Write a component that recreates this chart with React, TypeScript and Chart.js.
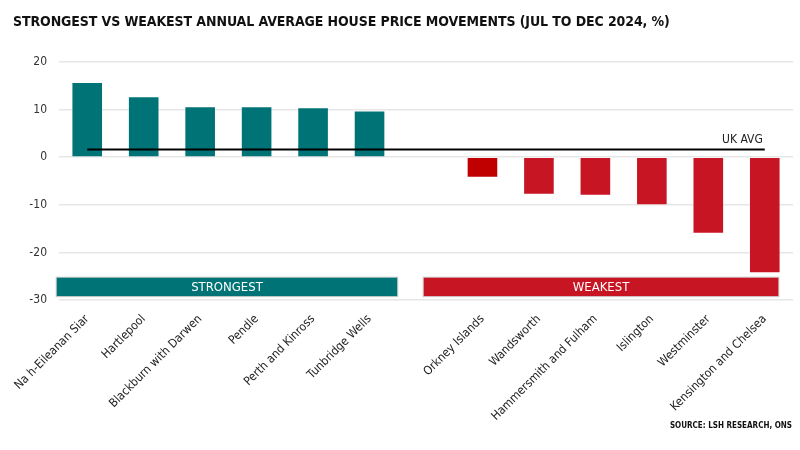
import React, { useEffect, useRef } from 'react';
import Chart from 'chart.js/auto';

// data
const categories = [
  'Na h-Eileanan Siar', 'Hartlepool', 'Blackburn with Darwen', 'Pendle', 'Perth and Kinross', 'Tunbridge Wells',
  '',
  'Orkney Islands', 'Wandsworth', 'Hammersmith and Fulham', 'Islington', 'Westminster', 'Kensington and Chelsea',
];
const movement = [15.8, 12.8, 10.7, 10.7, 10.5, 9.8, null, -4.3, -7.9, -8.1, -10.1, -16.1, -24.4];
const ukAvg = 1.6;
const groupNames = ['STRONGEST', 'WEAKEST'];
const groupFirst = [0, 7];
const groupLast = [5, 12];
const yTicks = [20, 10, 0, -10, -20, -30];

const TEAL = '#007377';
const RED = '#c81524';
const DARK_RED = '#c00000';
const FONT = '"DejaVu Sans Condensed", "DejaVu Sans", sans-serif';

const barColors = movement.map((v, i) => (v === null ? 'transparent' : v >= 0 ? TEAL : i === 7 ? DARK_RED : RED));
const groupColors = [TEAL, RED];

const overlayPlugin = {
  id: 'overlay',
  afterDatasetsDraw(chart: any) {
    const { ctx } = chart;
    const xs = chart.scales.x;
    const ys = chart.scales.y;

    // group banners along the bottom of the plot
    const top = ys.getPixelForValue(-25.2);
    const bottom = ys.getPixelForValue(-29.3);
    groupNames.forEach((name, g) => {
      const left = xs.getPixelForValue(g === 0 ? groupFirst[g] - 0.55 : groupFirst[g] - 1.05);
      const right = xs.getPixelForValue(g === 0 ? groupLast[g] + 0.5 : groupLast[g] + 0.25);
      ctx.save();
      ctx.fillStyle = groupColors[g];
      ctx.fillRect(left, top, right - left, bottom - top);
      ctx.strokeStyle = '#cfcfcf';
      ctx.lineWidth = 1;
      ctx.strokeRect(left, top, right - left, bottom - top);
      ctx.fillStyle = '#ffffff';
      ctx.font = `13px ${FONT}`;
      ctx.textAlign = 'center';
      ctx.textBaseline = 'middle';
      ctx.fillText(name, (left + right) / 2, (top + bottom) / 2 + 1);
      ctx.restore();
    });

    // UK average label
    const endX = xs.getPixelForValue(categories.length - 1);
    const lineY = ys.getPixelForValue(ukAvg);
    ctx.save();
    ctx.fillStyle = '#222';
    ctx.font = `12px ${FONT}`;
    ctx.textAlign = 'right';
    ctx.textBaseline = 'bottom';
    ctx.fillText('UK AVG', endX - 2, lineY - 4);
    ctx.restore();
  },
};

const HousePriceChart: React.FC = () => {
  const canvasRef = useRef<HTMLCanvasElement>(null);
  const chartRef = useRef<Chart | null>(null);

  useEffect(() => {
    if (!canvasRef.current) return;
    if (chartRef.current) chartRef.current.destroy();

    chartRef.current = new Chart(canvasRef.current, {
      type: 'bar',
      data: {
        labels: categories,
        datasets: [
          {
            type: 'line',
            label: 'UK AVG',
            data: categories.map(() => ukAvg),
            borderColor: '#000',
            borderWidth: 2,
            pointRadius: 0,
            order: 0,
          } as any,
          {
            label: 'Movement',
            data: movement,
            backgroundColor: barColors,
            borderColor: 'rgba(255,255,255,0.35)',
            borderWidth: 1,
            barPercentage: 0.56,
            categoryPercentage: 1,
            order: 1,
          },
        ],
      },
      options: {
        responsive: false,
        animation: false,
        layout: { padding: { top: 62, right: 7, left: 0, bottom: 0 } },
        plugins: {
          legend: { display: false },
          tooltip: { enabled: false },
        },
        scales: {
          x: {
            grid: { display: false },
            border: { display: false },
            ticks: {
              minRotation: 45,
              maxRotation: 45,
              autoSkip: false,
              padding: 4,
              color: '#222',
              font: { family: FONT, size: 12 },
            },
            afterFit: (scale: any) => {
              scale.height = 150;
            },
          },
          y: {
            min: -30,
            max: 20,
            afterBuildTicks: (scale: any) => {
              scale.ticks = yTicks.map((v) => ({ value: v }));
            },
            grid: { color: '#e6e6e6', lineWidth: 1.5, drawTicks: false },
            border: { display: false },
            ticks: {
              padding: 12,
              color: '#333',
              font: { family: FONT, size: 12 },
            },
            afterFit: (scale: any) => {
              scale.width = 59;
            },
          },
        },
      },
      plugins: [overlayPlugin],
    });

    return () => {
      if (chartRef.current) {
        chartRef.current.destroy();
        chartRef.current = null;
      }
    };
  }, []);

  return (
    <div style={{ position: 'relative', width: 800, height: 450, background: '#fff', fontFamily: FONT }}>
      <div style={{ position: 'absolute', left: 13, top: 13, fontSize: 14, fontWeight: 700, color: '#111', whiteSpace: 'nowrap', letterSpacing: -0.1 }}>
        STRONGEST VS WEAKEST ANNUAL AVERAGE HOUSE PRICE MOVEMENTS (JUL TO DEC 2024, %)
      </div>
      <canvas ref={canvasRef} width={800} height={450} style={{ display: 'block' }} />
      <div style={{ position: 'absolute', right: 8, top: 421, fontSize: 8, fontWeight: 700, color: '#111' }}>
        SOURCE: LSH RESEARCH, ONS
      </div>
    </div>
  );
};

export default function App() {
  useEffect(() => {
    document.body.style.margin = '0';
  }, []);
  return <HousePriceChart />;
}
